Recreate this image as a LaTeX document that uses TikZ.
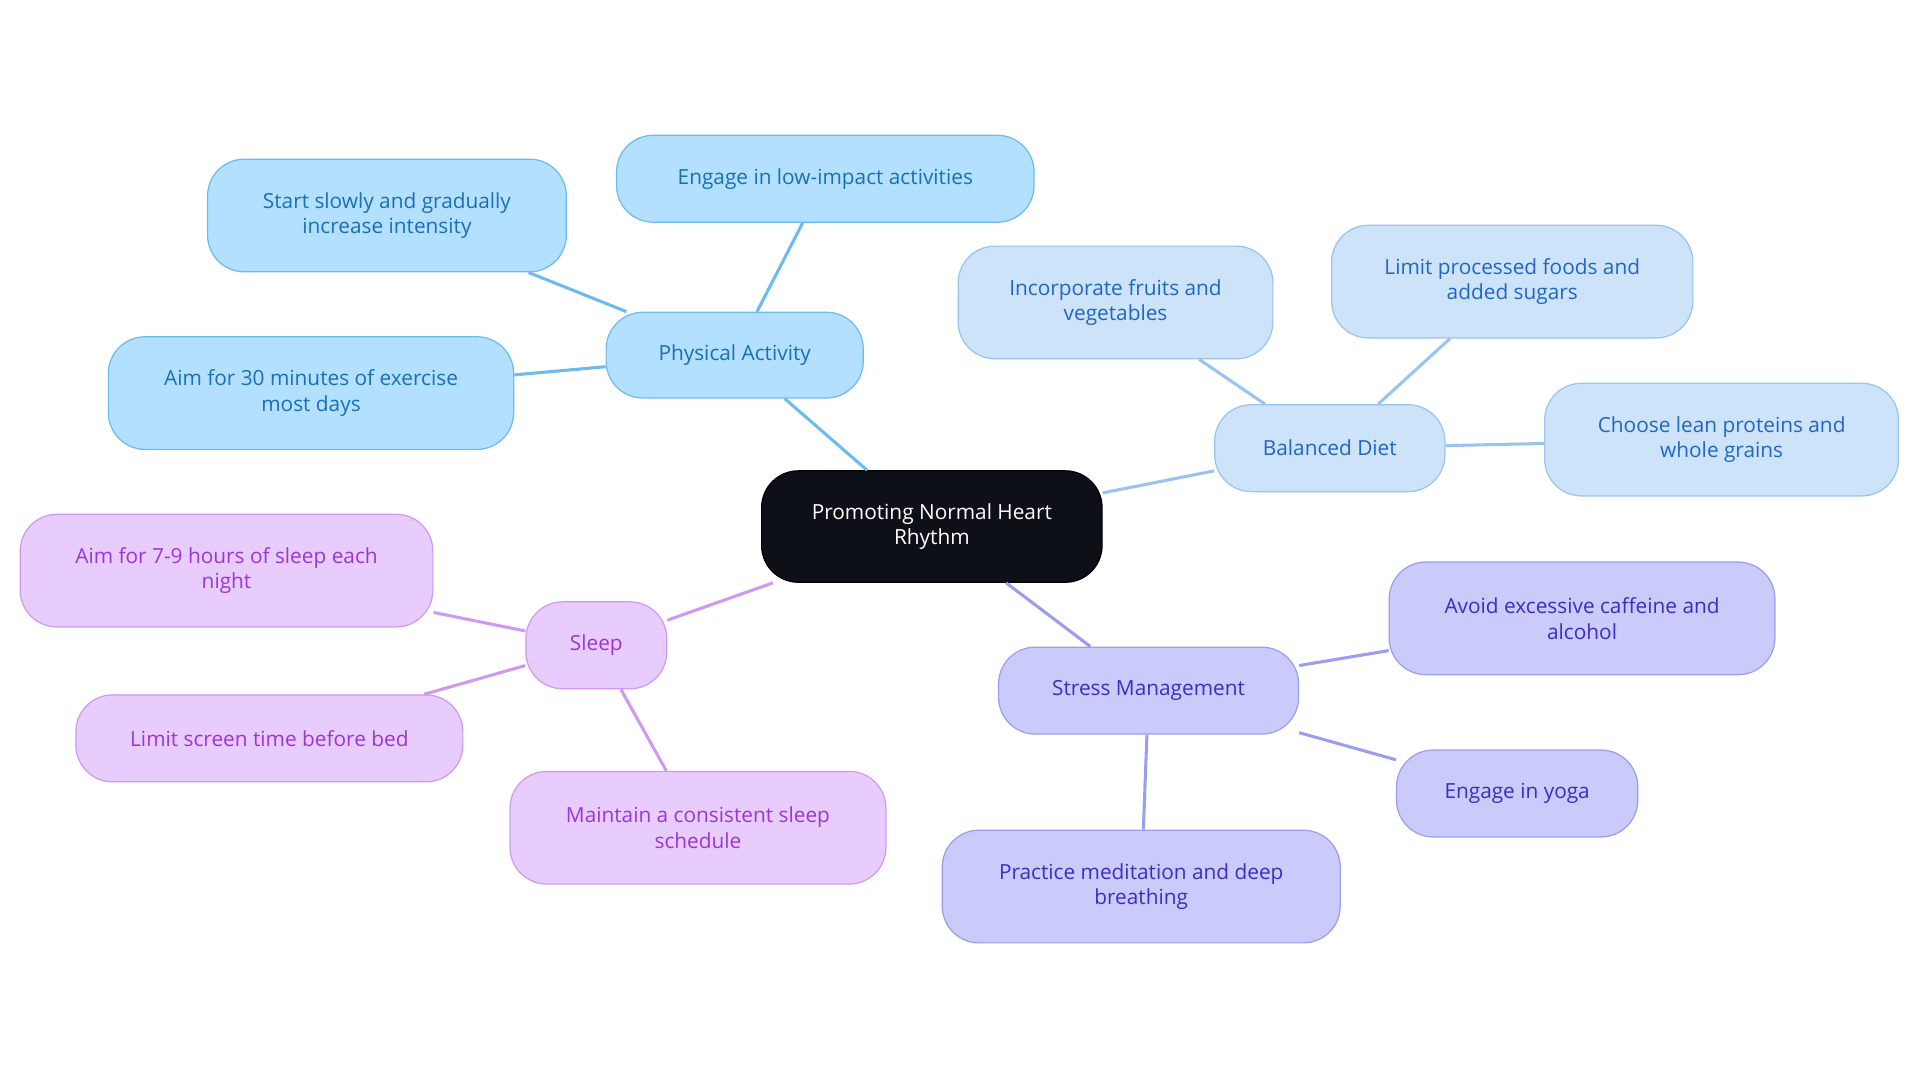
\documentclass[tikz,border=0pt]{standalone}
\usepackage{fontspec}
\setmainfont{Open Sans}
\begin{document}
\begin{tikzpicture}[x=1pt,y=-1pt,
 base/.style={rounded corners=30pt,line width=1pt,align=center,inner sep=0pt,font=\fontsize{17}{21}\selectfont},
 pa/.style={base,fill={rgb,255:red,179;green,224;blue,255},draw={rgb,255:red,107;green,187;blue,239},text={rgb,255:red,26;green,111;blue,181}},
 bd/.style={base,fill={rgb,255:red,204;green,227;blue,250},draw={rgb,255:red,153;green,196;blue,240},text={rgb,255:red,34;green,102;blue,196}},
 sm/.style={base,fill={rgb,255:red,202;green,203;blue,251},draw={rgb,255:red,155;green,157;blue,239},text={rgb,255:red,58;green,47;blue,192}},
 sl/.style={base,fill={rgb,255:red,232;green,204;blue,253},draw={rgb,255:red,206;green,153;blue,240},text={rgb,255:red,154;green,54;blue,216}},
 e/.style={line width=2.5pt}]
\useasboundingbox (0,0) rectangle (1568,884);
\node[base,fill={rgb,255:red,13;green,17;blue,23},draw=black,text=white,minimum width=278pt,minimum height=91pt] (c) at (761,430) {Promoting Normal Heart\\Rhythm};
\node[pa,minimum width=210pt,minimum height=70pt] (pa) at (600,290) {Physical Activity};
\node[pa,minimum width=293pt,minimum height=92pt] (pa1) at (316,176) {Start slowly and gradually\\increase intensity};
\node[pa,minimum width=341pt,minimum height=71pt] (pa2) at (674,146) {Engage in low-impact activities};
\node[pa,minimum width=331pt,minimum height=92pt] (pa3) at (254,321) {Aim for 30 minutes of exercise\\most days};
\node[bd,minimum width=188pt,minimum height=71pt] (bd) at (1086,366) {Balanced Diet};
\node[bd,minimum width=257pt,minimum height=92pt] (bd1) at (911,247) {Incorporate fruits and\\vegetables};
\node[bd,minimum width=295pt,minimum height=92pt] (bd2) at (1235,230) {Limit processed foods and\\added sugars};
\node[bd,minimum width=289pt,minimum height=92pt] (bd3) at (1406,359) {Choose lean proteins and\\whole grains};
\node[sm,minimum width=245pt,minimum height=71pt] (sm) at (938,564) {Stress Management};
\node[sm,minimum width=315pt,minimum height=92pt] (sm1) at (1292,505) {Avoid excessive caffeine and\\alcohol};
\node[sm,minimum width=197pt,minimum height=71pt] (sm2) at (1239,648) {Engage in yoga};
\node[sm,minimum width=325pt,minimum height=92pt] (sm3) at (932,724) {Practice meditation and deep\\breathing};
\node[sl,minimum width=115pt,minimum height=71pt] (sl) at (487,527) {Sleep};
\node[sl,minimum width=337pt,minimum height=92pt] (sl1) at (185,466) {Aim for 7-9 hours of sleep each\\night};
\node[sl,minimum width=316pt,minimum height=71pt] (sl2) at (220,603) {Limit screen time before bed};
\node[sl,minimum width=307pt,minimum height=92pt] (sl3) at (570,676) {Maintain a consistent sleep\\schedule};
\begin{scope}[on background layer/.style={}]
\end{scope}
\draw[e,draw={rgb,255:red,107;green,187;blue,239}] (c) -- (pa) (pa) -- (pa1) (pa) -- (pa2) (pa) -- (pa3);
\draw[e,draw={rgb,255:red,153;green,196;blue,240}] (c) -- (bd) (bd) -- (bd1) (bd) -- (bd2) (bd) -- (bd3);
\draw[e,draw={rgb,255:red,155;green,157;blue,239}] (c) -- (sm) (sm) -- (sm1) (sm) -- (sm2) (sm) -- (sm3);
\draw[e,draw={rgb,255:red,206;green,153;blue,240}] (c) -- (sl) (sl) -- (sl1) (sl) -- (sl2) (sl) -- (sl3);
\end{tikzpicture}
\end{document}
